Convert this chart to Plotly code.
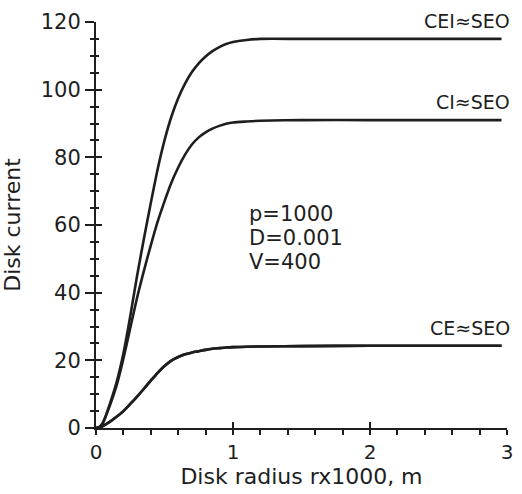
import plotly.graph_objects as go

# ---- data ----
radius = [0, 0.025, 0.05, 0.1, 0.15, 0.2, 0.25, 0.3, 0.35, 0.4, 0.45, 0.5, 0.55, 0.6,
          0.65, 0.7, 0.75, 0.8, 0.85, 0.9, 0.95, 1.0, 1.1, 1.2, 1.5, 2.0, 2.5, 2.96]
cei_seo = [0, 0.3, 1.5, 7, 13.5, 22, 33, 45, 56, 66.5, 76.5, 85, 92, 97.5,
           101.8, 105.2, 107.8, 109.8, 111.4, 112.6, 113.5, 114.1, 114.7, 115, 115, 115, 115, 115]
ci_seo = [0, 0.3, 1.5, 6.5, 12.5, 20.5, 29.5, 38.5, 46.5, 54, 61, 67, 72.5, 77,
          80.8, 83.8, 85.9, 87.4, 88.5, 89.3, 89.9, 90.3, 90.6, 90.8, 91, 91, 91, 91]
ce_seo = [0, 0.2, 0.6, 1.8, 3.3, 5, 7.1, 9.3, 11.6, 14, 16.3, 18.3, 19.9, 21.0,
          21.8, 22.3, 22.7, 23.1, 23.4, 23.6, 23.8, 23.9, 24.0, 24.1, 24.2, 24.3, 24.3, 24.3]
series_names = ["CEI≈SEO", "CI≈SEO", "CE≈SEO"]
x_ticks = [0, 1, 2, 3]
y_ticks = [0, 20, 40, 60, 80, 100, 120]
params = ["p=1000", "D=0.001", "V=400"]

INK = "#1e1e1e"
FONT = "DejaVu Sans"

fig = go.Figure()
for name, ys in zip(series_names, [cei_seo, ci_seo, ce_seo]):
    fig.add_trace(go.Scatter(x=radius, y=ys, mode="lines", name=name,
                             line=dict(color=INK, width=2.6, shape="spline", smoothing=0.8),
                             hoverinfo="skip"))
# same curve on overlay axes (used only to draw crossing ticks)
fig.add_trace(go.Scatter(x=radius, y=ce_seo, mode="lines", xaxis="x2", yaxis="y2",
                         line=dict(color=INK, width=2.6, shape="spline", smoothing=0.8),
                         hoverinfo="skip", showlegend=False))

for name, ys in zip(series_names, [cei_seo, ci_seo, ce_seo]):
    fig.add_annotation(x=radius[-1], y=ys[-1], text=name, showarrow=False,
                       xanchor="right", yanchor="middle", xshift=10, yshift=18,
                       font=dict(family=FONT, size=19, color=INK))

for i, txt in enumerate(params):
    fig.add_annotation(x=1.1, y=63.4 - 7.2 * i, xref="x", yref="y", text=txt,
                       showarrow=False, xanchor="left", yanchor="middle", align="left",
                       font=dict(family=FONT, size=21, color=INK))

axis_common = dict(showgrid=False, zeroline=False)
fig.update_layout(
    width=522, height=494,
    margin=dict(l=96, r=9, t=22, b=61),
    paper_bgcolor="white", plot_bgcolor="white",
    showlegend=False,
    xaxis=dict(range=[0, 3], tickvals=x_ticks, ticks="outside", ticklen=5, tickwidth=2,
               tickcolor=INK, showline=True, linewidth=2, linecolor=INK,
               minor=dict(dtick=0.2, ticks="outside", ticklen=5, tickwidth=1.5, tickcolor=INK),
               tickfont=dict(family=FONT, size=20, color=INK),
               title=dict(text="Disk radius rx1000, m", standoff=6,
                          font=dict(family=FONT, size=22, color=INK)),
               **axis_common),
    yaxis=dict(range=[0, 120], tickvals=y_ticks, ticks="outside", ticklen=9, tickwidth=2,
               tickcolor=INK, showline=True, linewidth=2, linecolor=INK,
               minor=dict(dtick=5, ticks="outside", ticklen=4, tickwidth=1.5, tickcolor=INK),
               tickfont=dict(family=FONT, size=21, color=INK),
               title=dict(text="Disk current", standoff=14,
                          font=dict(family=FONT, size=22, color=INK)),
               **axis_common),
    xaxis2=dict(range=[0, 3], overlaying="x", anchor="y2", tickvals=x_ticks, ticks="inside",
                ticklen=6, tickwidth=2, tickcolor=INK, showticklabels=False,
                showline=False, **axis_common),
    yaxis2=dict(range=[0, 120], overlaying="y", anchor="x2", side="left", tickvals=y_ticks,
                ticks="inside", ticklen=6, tickwidth=2, tickcolor=INK, showticklabels=False,
                minor=dict(dtick=5, ticks="inside", ticklen=3, tickwidth=1.5, tickcolor=INK),
                showline=False, **axis_common),
)

fig.write_html("out.html")
